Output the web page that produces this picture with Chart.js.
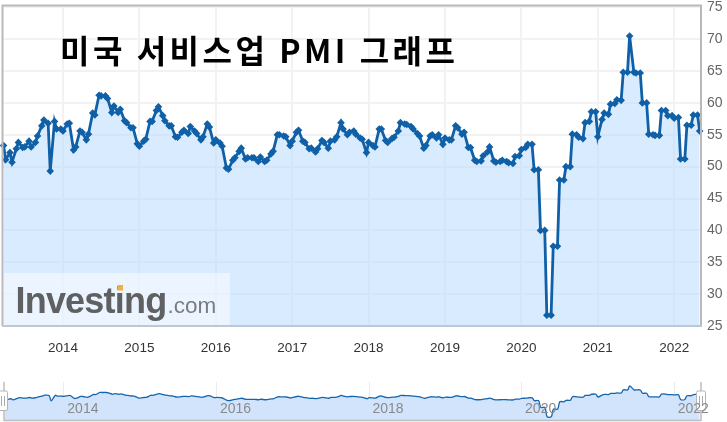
<!DOCTYPE html>
<html lang="ko"><head><meta charset="utf-8">
<style>html,body{margin:0;padding:0;background:#fff;overflow:hidden}canvas{position:absolute;left:0}</style>
<script src="https://cdn.jsdelivr.net/npm/chart.js@4"></script></head>
<body>
<canvas id="main" width="727" height="370" style="top:0;width:727px;height:370px"></canvas>
<canvas id="nav" width="727" height="52" style="top:370px;width:727px;height:52px"></canvas>
<script>
const titleText = '미국 서비스업 PMI 그래프';
const yTicks = [25,30,35,40,45,50,55,60,65,70,75];
const yearTicks = [2014,2015,2016,2017,2018,2019,2020,2021,2022];
const navYearTicks = [2014,2016,2018,2020,2022];
// Two readings a month (first one in the month, then a later one), starting with the later one of March 2013
const values2013 = [53.3, 51.1,52.2, 50.7,52.8, 53.8,53, 53.1,54, 53.1,53.8, 54.8,56.4, 57.3,56.8, 49.3,57.1, 55.9,55.9];
const values2014 = [55.6,56.7, 56.8,52.6, 53.1,55.6, 55.4,54.2, 55.1,58.4, 58.1,61.2, 61.1,61.1, 60.7,58.5, 59.5,58.5, 59,57.2, 56.9,56.1, 56.1,53.6];
const values2015 = [53.2,54, 54.3,57.1, 57.1,58.8, 59.4,58, 57.2,56.4, 56.4,54.7, 54.6,55.4, 55.7,55.2, 56.3,55.6, 55.2,54.2, 54.7,56.7, 56.2,53.7];
const values2016 = [54.2,53.7, 53.2,49.8, 49.6,51, 51.4,52.4, 52.9,51.2, 51.4,51.4, 51.4,50.8, 51.5,50.8, 51,52, 52.4,55, 55,54.8, 54.7,53.3];
const values2017 = [54,55.4, 55.7,54, 53.8,52.8, 52.9,52.3, 52.8,54.1, 53.8,52.9, 54,54.2, 54.7,56.9, 55.9,55, 55.4,55.6, 55.1,54.5, 54.3,52.2];
const values2018 = [53.8,53.3, 53.1,55.9, 55.9,54.1, 53.8,54.4, 54.6,55.6, 56.9,56.7, 56.6,56.3, 55.9,55.2, 54.8,52.9, 53.3,54.8, 55,54.5, 55,53.5];
const values2019 = [54.5,54.2, 54.2,56.4, 56.1,55.1, 55.4,53, 53,51, 50.8,50.9, 51.7,52.3, 53.1,50.9, 50.7,50.8, 51,50.8, 50.6,50.5, 51.6,51.7];
const values2020 = [52.7,53, 53.5,53.5, 49.5,49.5, 40,40, 26.7,26.7, 37.5,37.5, 47.9,47.9, 50,50, 55.1,55, 54.6,54.4, 56.9,57.1, 58.6,58.6];
const values2021 = [54.7,57.4, 58.4,58.2, 59.8,59.9, 60.5,60.4, 64.8,64.8, 70.5,64.8, 64.7,64.7, 60,60, 55.1,55, 54.9,54.9, 58.8,58.8, 58,58];
const values2022 = [57.6,57.7, 51.2,51.2, 56.5,56.5, 58.1,58.1, 55.6];

const values = [].concat(values2013,values2014,values2015,values2016,values2017,values2018,values2019,values2020,values2021,values2022);
// release date as a decimal year: index 0 is late March 2013, then 1st / ~21st of each month
const releaseDate = i => { const n = i + 1; const month = 2 + Math.floor(n/2); return 2013 + (month + (n%2 ? 0.67 : 0))/12; };
const points = values.map((v,i)=>({x:releaseDate(i), y:v}));

const xMin = 2013.215, xMax = 2022.351;

const frame = {
  id:'frame',
  afterDatasetsDraw(c){
    const {ctx,chartArea:a} = c;
    // Investing.com watermark
    ctx.save();
    ctx.fillStyle='rgba(255,255,255,0.5)';
    ctx.fillRect(a.left,273,227,a.bottom-273);
    ctx.textBaseline='alphabetic';
    ctx.fillStyle='#5f6062';
    ctx.font='bold 36px "Liberation Sans"';
    ctx.letterSpacing='-0.8px';
    ctx.fillText('Investing',15.5,313);
    ctx.letterSpacing='0px';
    ctx.fillStyle='#7b7c7e';
    ctx.font='22.5px "Liberation Sans"';
    ctx.fillText('.com',167.5,313);
    ctx.fillStyle='#f3ae45';
    ctx.fillRect(117.5,285,5.5,5.5);
    // title
    ctx.fillStyle='#000';
    ctx.font='bold 32px "Noto Sans CJK KR"';
    ctx.letterSpacing='3.5px';
    ctx.fillText(titleText,60,63);
    ctx.letterSpacing='0px';
    ctx.restore();
    // frame
    ctx.save();
    ctx.lineWidth=2;
    ctx.strokeStyle='#b9b9b9';
    ctx.beginPath();
    ctx.moveTo(a.left-0.5,a.bottom);ctx.lineTo(a.left-0.5,a.top-0.5);ctx.lineTo(a.right,a.top-0.5);ctx.lineTo(a.right,a.bottom);
    ctx.stroke();
    ctx.strokeStyle='#bcc8d6';
    ctx.beginPath();ctx.moveTo(a.left-1,a.bottom);ctx.lineTo(a.right+1,a.bottom);ctx.stroke();
    ctx.restore();
  }
};

new Chart(document.getElementById('main'),{
  type:'line',
  data:{datasets:[{data:points,borderColor:'#1060a8',borderWidth:2.8,tension:0,
    backgroundColor:'rgba(180,215,255,0.5)',fill:'start',
    pointStyle:'rectRot',pointRadius:3.8,pointBackgroundColor:'#1060a8',pointBorderColor:'#1060a8',pointBorderWidth:0,clip:false}]},
  options:{responsive:false,animation:false,events:[],
    layout:{autoPadding:false,padding:{left:3,top:6,right:0,bottom:0}},
    plugins:{legend:{display:false},tooltip:{enabled:false},title:{display:false}},
    scales:{
      x:{type:'linear',min:xMin,max:xMax,
        afterBuildTicks(s){s.ticks=yearTicks.map(v=>({value:v}));},
        afterFit(s){s.height=44;s.paddingLeft=0;s.paddingRight=0;},
        grid:{color:'#f2f2f2',lineWidth:2,drawTicks:false},border:{display:false},
        ticks:{autoSkip:false,maxRotation:0,padding:14,color:'#333',font:{family:'"Liberation Sans"',size:13.5},callback:v=>String(v)}},
      y:{position:'right',min:25,max:75.2,
        afterBuildTicks(s){s.ticks=yTicks.map(v=>({value:v}));},
        afterFit(s){s.width=26;s.paddingTop=0;s.paddingBottom=0;},
        grid:{color:'#f2f2f2',lineWidth:2,drawTicks:false},border:{display:false},
        ticks:{padding:6,color:'#666',font:{family:'"Liberation Sans"',size:14},callback:v=>String(v)}}
    }},
  plugins:[frame]
});

const handle = {
  id:'handle',
  afterDraw(c){
    const {ctx,chartArea:a} = c;
    const xs = c.scales.x;
    ctx.save();
    ctx.lineWidth=1.5;ctx.strokeStyle='#bdbdbd';
    ctx.beginPath();
    ctx.moveTo(a.left,a.top);ctx.lineTo(a.left,a.bottom+0.5);ctx.lineTo(a.right,a.bottom+0.5);ctx.lineTo(a.right,a.top);
    ctx.stroke();
    for(const cx of [a.left-1,a.right]){
      ctx.fillStyle='#fff';ctx.strokeStyle='#b5b5b5';ctx.lineWidth=1;
      ctx.beginPath();ctx.roundRect(cx-4.5,21,9,19.5,1.5);ctx.fill();ctx.stroke();
      ctx.strokeStyle='#aaa';
      ctx.beginPath();ctx.moveTo(cx-1.5,26);ctx.lineTo(cx-1.5,36);ctx.moveTo(cx+1.5,26);ctx.lineTo(cx+1.5,36);ctx.stroke();
    }
    ctx.font='14px "Liberation Sans"';
    ctx.fillStyle='#8a8a8a';
    ctx.textAlign='center';ctx.textBaseline='middle';
    for(const y of navYearTicks) ctx.fillText(String(y),xs.getPixelForValue(y)+19,39);
    ctx.restore();
  }
};

new Chart(document.getElementById('nav'),{
  type:'line',
  data:{datasets:[{data:points,borderColor:'#1565ad',borderWidth:1.3,tension:0.3,
    backgroundColor:'#d2e4fb',fill:'start',pointRadius:0}]},
  options:{responsive:false,animation:false,events:[],
    layout:{autoPadding:false,padding:{left:4,top:12,right:26,bottom:2}},
    plugins:{legend:{display:false},tooltip:{enabled:false},title:{display:false}},
    scales:{
      x:{type:'linear',min:xMin,max:xMax,
        afterBuildTicks(s){s.ticks=navYearTicks.map(v=>({value:v}));},
        afterFit(s){s.height=0;s.paddingLeft=0;s.paddingRight=0;},
        grid:{color:'#ececec',lineWidth:1,drawTicks:false},border:{display:false},
        ticks:{display:false}},
      y:{display:false,min:22,max:76}
    }},
  plugins:[handle]
});
</script>
</body></html>
